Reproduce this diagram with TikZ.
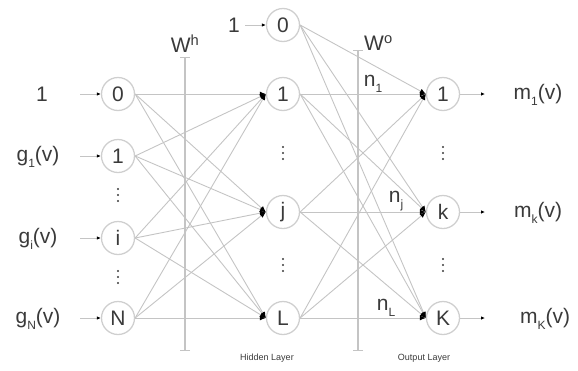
\documentclass[tikz,border=0pt]{standalone}
\usepackage{fontspec}
\setmainfont{Liberation Sans}
\usetikzlibrary{arrows.meta}
\definecolor{circ}{HTML}{CFCFCF}
\definecolor{edge}{HTML}{C4C4C4}
\definecolor{txt}{HTML}{3A3A3A}
\newcommand\mysub[1]{\raisebox{-0.3em}{\fontsize{12}{12}\selectfont #1}}
\begin{document}
\begin{tikzpicture}[x=1pt,y=-1pt,
  neuron/.style={circle,draw=circ,line width=1.3pt,minimum size=33pt,inner sep=0pt,font=\fontsize{21}{21}\selectfont,text=txt},
  lab/.style={text=txt,font=\fontsize{21}{21}\selectfont,inner sep=0pt},
  small/.style={text=txt,font=\fontsize{9}{9}\selectfont,inner sep=0pt},
  conn/.style={draw=edge,line width=0.9pt,-{Latex[length=6pt,width=5pt,color=black]}},
  inarr/.style={draw=edge,line width=0.9pt,-{Latex[length=4pt,width=3.5pt,color=black]}},
  wline/.style={draw=edge,line width=1.2pt,{Bar[width=10pt]}-{Bar[width=10pt]}},
  vdot/.style={circle,fill=txt,inner sep=0pt,minimum size=2.2pt}
]
\useasboundingbox (0,0) rectangle (578,370);
% input layer
\node[neuron] (I0) at (118,94) {0};
\node[neuron] (I1) at (118,156) {1};
\node[neuron] (Ii) at (118,238) {i};
\node[neuron] (IN) at (118,318) {N};
% hidden layer
\node[neuron] (H0) at (283,25) {0};
\node[neuron] (H1) at (283,94) {1};
\node[neuron] (Hj) at (283,212) {j};
\node[neuron] (HL) at (283,318) {L};
% output layer
\node[neuron] (O1) at (443,94) {1};
\node[neuron] (Ok) at (443,212) {k};
\node[neuron] (OK) at (443,318) {K};
% weight lines
\coordinate (whT) at (185,57);
\coordinate (whB) at (185,351);
\coordinate (woT) at (358,50);
\coordinate (woB) at (358,351);
\draw[wline] (whT) -- (whB);
\draw[wline] (woT) -- (woB);
\node[lab,anchor=south] (Wh) at (185,53) {W\textsuperscript{h}};
\node[lab,anchor=south west] (Wo) at (364,51) {W\textsuperscript{o}};
% input labels
\node[lab] (x0) at (42,94) {1};
\node[lab] (x1) at (38,157) {g\mysub{1}(v)};
\node[lab] (xi) at (38,239) {g\mysub{i}(v)};
\node[lab] (xN) at (38,319) {g\mysub{N}(v)};
\coordinate (a0) at (80,94);
\coordinate (a1) at (80,156);
\coordinate (ai) at (80,238);
\coordinate (aN) at (80,318);
\draw[inarr] (a0) -- (I0.west);
\draw[inarr] (a1) -- (I1.west);
\draw[inarr] (ai) -- (Ii.west);
\draw[inarr] (aN) -- (IN.west);
% hidden bias
\node[lab] (hb) at (234,25) {1};
\coordinate (ahb) at (245,25);
\draw[inarr] (ahb) -- (H0.west);
% input -> hidden
\foreach \s in {I0,I1,Ii,IN}{
  \foreach \t in {H1,Hj,HL}{
    \draw[conn] (\s.east) -- (\t.west);
  }
}
% hidden -> output
\foreach \s in {H0,H1,Hj,HL}{
  \foreach \t in {O1,Ok,OK}{
    \draw[conn] (\s.east) -- (\t.west);
  }
}
% n labels
\node[lab,anchor=south] (n1) at (373,93) {n\mysub{1}};
\node[lab,anchor=south] (nj) at (396,211) {n\mysub{j}};
\node[lab,anchor=south] (nL) at (386,317) {n\mysub{L}};
% outputs
\coordinate (e1) at (485,94);
\coordinate (ek) at (485,212);
\coordinate (eK) at (485,318);
\draw[inarr] (O1.east) -- (e1);
\draw[inarr] (Ok.east) -- (ek);
\draw[inarr] (OK.east) -- (eK);
\node[lab] (m1) at (538,95) {m\mysub{1}(v)};
\node[lab] (mk) at (538,213) {m\mysub{k}(v)};
\node[lab] (mK) at (545,319) {m\mysub{K}(v)};
% vertical dots
\foreach \x/\y/\nm in {118/195/d1,118/277/d2,283/153/d3,283/265/d4,443/153/d5,443/265/d6}{
  \node[vdot] (\nm a) at (\x,\y-6) {};
  \node[vdot] (\nm b) at (\x,\y) {};
  \node[vdot] (\nm c) at (\x,\y+6) {};
}
% layer captions
\node[small] (hl) at (267,358) {Hidden Layer};
\node[small] (ol) at (424,358) {Output Layer};
\end{tikzpicture}
\end{document}
